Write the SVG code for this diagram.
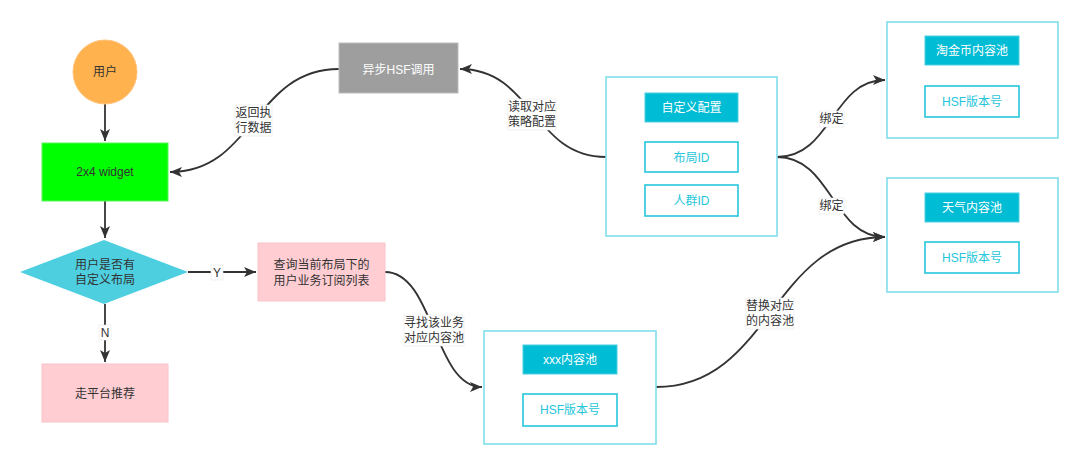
<svg xmlns="http://www.w3.org/2000/svg" width="1080" height="467" viewBox="0 0 1080 467">
<style>
text{font-family:"Liberation Sans","Noto Sans CJK SC",sans-serif;font-size:12px;fill:#333;text-anchor:middle;dominant-baseline:central}
.w{fill:#fff}
.c{fill:#26c6da}
.edge{fill:none;stroke:#333;stroke-width:1.8}
.lbl{fill:#fff;stroke:#e6e6e6;stroke-width:0.6}
.box{fill:#fff;stroke:#80deea;stroke-width:1.6}
.hdr{fill:#00bcd4;stroke:#4dd0e1;stroke-width:1}
.sub{fill:#fff;stroke:#26c6da;stroke-width:1.6}
.pink{fill:#ffcdd2;stroke:#f8c4ca;stroke-width:1}
</style>
<defs>
<marker id="ah" markerUnits="userSpaceOnUse" markerWidth="14" markerHeight="12" refX="12" refY="5" orient="auto">
<path d="M0,0 L12,5 L0,10 L3,5 Z" fill="#333"/>
</marker>
</defs>
<g id="connectors">
<path class="edge" d="M105,104 L105,141" marker-end="url(#ah)"/>
<path class="edge" d="M105,201 L105,238" marker-end="url(#ah)"/>
<path class="edge" d="M188,272 L256,272" marker-end="url(#ah)"/>
<path class="edge" d="M105,304 L105,362" marker-end="url(#ah)"/>
<path class="edge" d="M339,69 C254,69 254,172 170,172" marker-end="url(#ah)"/>
<path class="edge" d="M606,157 C533,157 533,69 460,69" marker-end="url(#ah)"/>
<path class="edge" d="M777,157 C832,157 832,80 885,80" marker-end="url(#ah)"/>
<path class="edge" d="M777,157 C832,157 832,237 885,237" marker-end="url(#ah)"/>
<path class="edge" d="M385,272 C434,272 434,387 482,387" marker-end="url(#ah)"/>
<path class="edge" d="M656,387 C771,387 771,237 885,237" marker-end="url(#ah)"/>
<rect class="lbl" x="211" y="265" width="12" height="15"/><text x="217" y="272.5">Y</text>
<rect class="lbl" x="99" y="325" width="12" height="15"/><text x="105" y="332.5">N</text>
<rect class="lbl" x="235" y="105" width="37" height="31"/><text x="253.5" y="113">返回执</text><text x="253.5" y="128">行数据</text>
<rect class="lbl" x="508" y="99" width="48" height="31"/><text x="532" y="106.5">读取对应</text><text x="532" y="121.5">策略配置</text>
<rect class="lbl" x="819" y="111" width="25" height="16"/><text x="831.5" y="119">绑定</text>
<rect class="lbl" x="819" y="198" width="25" height="16"/><text x="831.5" y="206">绑定</text>
<rect class="lbl" x="404" y="315" width="60" height="31"/><text x="434" y="323">寻找该业务</text><text x="434" y="338">对应内容池</text>
<rect class="lbl" x="746" y="298" width="48" height="31"/><text x="770" y="306">替换对应</text><text x="770" y="321">的内容池</text>
</g>
<g id="user">
<circle cx="105" cy="72" r="32" fill="#ffb24d" stroke="#ffc27a" stroke-width="1"/>
<text x="105" y="72">用户</text>
</g>
<g id="widget">
<rect x="42" y="143" width="126" height="58" fill="#00ff00" stroke="#5cf55c" stroke-width="1"/>
<text x="105" y="172">2x4 widget</text>
</g>
<g id="decision">
<path d="M104,240 L188,272 L104,304 L20,272 Z" fill="#4ecfe0"/>
<text x="105" y="265">用户是否有</text>
<text x="105" y="280">自定义布局</text>
</g>
<g id="query">
<rect class="pink" x="258" y="243" width="127" height="58"/>
<text x="321.5" y="265">查询当前布局下的</text>
<text x="321.5" y="281">用户业务订阅列表</text>
</g>
<g id="recommend">
<rect class="pink" x="42" y="364" width="126" height="58"/>
<text x="105" y="394">走平台推荐</text>
</g>
<g id="async">
<rect x="339" y="43" width="119" height="50" fill="#9e9e9e" stroke="#bdbdbd" stroke-width="1"/>
<text class="w" x="398.5" y="70">异步HSF调用</text>
</g>
<g id="config">
<rect class="box" x="606" y="77" width="171" height="159"/>
<rect class="hdr" x="645" y="93" width="93" height="29"/>
<text class="w" x="691.5" y="108">自定义配置</text>
<rect class="sub" x="645" y="142" width="93" height="30"/>
<text class="c" x="691.5" y="157.5">布局ID</text>
<rect class="sub" x="645" y="185" width="93" height="31"/>
<text class="c" x="691.5" y="201">人群ID</text>
</g>
<g id="taojinbi">
<rect class="box" x="887" y="22" width="171" height="116"/>
<rect class="hdr" x="925" y="36" width="94" height="29"/>
<text class="w" x="972" y="51">淘金币内容池</text>
<rect class="sub" x="925" y="86" width="94" height="31"/>
<text class="c" x="972" y="102">HSF版本号</text>
</g>
<g id="weather">
<rect class="box" x="887" y="178" width="171" height="114"/>
<rect class="hdr" x="925" y="193" width="94" height="29"/>
<text class="w" x="972" y="208">天气内容池</text>
<rect class="sub" x="925" y="242" width="94" height="31"/>
<text class="c" x="972" y="258">HSF版本号</text>
</g>
<g id="xxx">
<rect class="box" x="484" y="331" width="172" height="113"/>
<rect class="hdr" x="523" y="345" width="94" height="29"/>
<text class="w" x="570" y="360">xxx内容池</text>
<rect class="sub" x="523" y="394" width="94" height="32"/>
<text class="c" x="570" y="410">HSF版本号</text>
</g>
</svg>
